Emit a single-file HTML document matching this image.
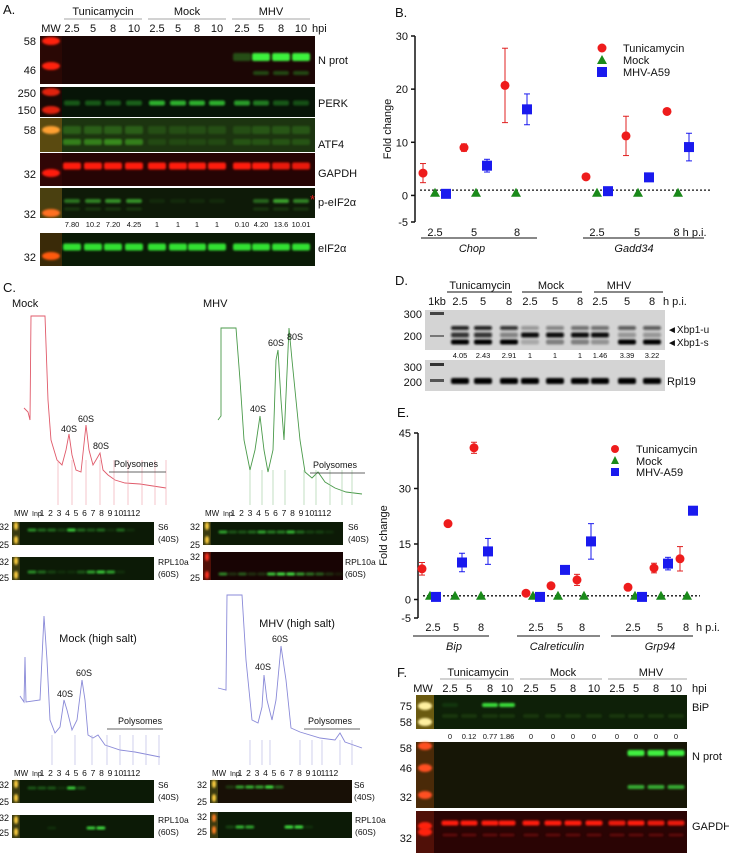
<!DOCTYPE html>
<html><head><meta charset="utf-8"><style>
html,body{margin:0;padding:0;background:#fff;}
svg{display:block;font-family:"Liberation Sans",Arial,sans-serif;}
</style></head><body>
<svg id="fig" width="729" height="853" viewBox="0 0 729 853" xmlns="http://www.w3.org/2000/svg">
<defs>
<filter id="bl" x="-20%" y="-50%" width="140%" height="200%"><feGaussianBlur stdDeviation="1.1"/></filter>
</defs>
<g id="root"></g>
</svg>
<script>
// ---- Chart B data ----
const bGenes = ["Chop","Gadd34"];
const bTimes = ["2.5","5","8"];
const bTunVals = [4.2, 9.0, 20.7, 3.5, 11.2, 15.8];
const bTunErr = [1.8, 0.7, 7.0, 0.5, 3.7, 0.3];
const bMockVals = [0.5, 0.5, 0.5, 0.5, 0.5, 0.5];
const bMhvVals = [0.3, 5.6, 16.2, 0.8, 3.4, 9.1];
const bMhvErr = [0.3, 1.2, 2.9, 0.3, 0.3, 2.6];
const bTicks = [-5, 0, 10, 20, 30];
// ---- Chart E data ----
const eGenes = ["Bip","Calreticulin","Grp94"];
const eTunVals = [8.3, 20.5, 41.0, 1.7, 3.7, 5.3, 3.3, 8.5, 11.0];
const eTunErr = [1.7, 0.4, 1.5, 0.3, 0.4, 1.5, 0.3, 1.3, 3.3];
const eMockVals = [1, 1, 1, 1, 1, 1, 1, 1, 1];
const eMhvVals = [0.7, 10.0, 13.0, 0.7, 8.0, 15.7, 0.7, 9.7, 24.0];
const eMhvErr = [0.2, 2.5, 3.5, 0.2, 0.3, 4.8, 0.2, 1.7, 0.3];
const eTicks = [-5, 0, 15, 30, 45];
// ---- Blot quantification labels ----
const aPeifVals = ["7.80","10.2","7.20","4.25","1","1","1","1","0.10","4.20","13.6","10.01"];
const dXbpVals = ["4.05","2.43","2.91","1","1","1","1.46","3.39","3.22"];
const fBipVals = ["0","0.12","0.77","1.86","0","0","0","0","0","0","0","0"];

const NS="http://www.w3.org/2000/svg";
const root=document.getElementById('root');
function el(tag,attrs,parent){const e=document.createElementNS(NS,tag);for(const k in attrs)e.setAttribute(k,attrs[k]);(parent||root).appendChild(e);return e;}
function txt(x,y,s,size,opts){opts=opts||{};const t=el('text',{x:x,y:y,'font-size':size,fill:opts.fill||'#111','text-anchor':opts.anchor||'start'},opts.parent);if(opts.italic)t.setAttribute('font-style','italic');t.textContent=s;


return t;}
function line(x1,y1,x2,y2,c,w,dash,p){const l=el('line',{x1,y1,x2,y2,stroke:c||'#111','stroke-width':w||1},p);if(dash)l.setAttribute('stroke-dasharray',dash);return l;}

// Blot helper
function blot(name,x,y,w,h,bg,lanes,bands,mw){
  const g=el('g',{});
  
  
  el('rect',{x,y,width:w,height:h,fill:bg},g);
  if(mw){el('rect',{x:x,y:y,width:mw.w,height:h,fill:mw.bg},g);
    mw.ys.forEach(v=>el('ellipse',{cx:x+mw.w/2,cy:v,rx:mw.w/2-2,ry:4,fill:mw.c,filter:'url(#bl)'},g));}
  bands.forEach(b=>{lanes.forEach((lx,i)=>{const a=b.a[i];if(a<=0)return;
    el('rect',{x:lx-b.w/2,y:b.y-b.h/2,width:b.w,height:b.h,fill:b.c,opacity:a,filter:'url(#bl)',rx:2},g);});});
  return g;
}

// ================= Panel A =================
txt(3,14,"A.",13,{name:'panel-a-label'});
const aL=[72,93,113,134,157,178,197,217,242,261,281,301];
[["Tunicamycin",103,64,142],["Mock",187,148,226],["MHV",271,232,310]].forEach(h=>{txt(h[1],15,h[0],11,{anchor:'middle',name:'group-header'});line(h[2],19,h[3],19,'#888',0.8);});
txt(51,32,"MW",11,{anchor:'middle',name:'lane-label'});
["2.5","5","8","10","2.5","5","8","10","2.5","5","8","10"].forEach((s,i)=>txt(aL[i],32,s,11,{anchor:'middle',name:'lane-label'}));
txt(312,32,"hpi",11,{name:'hpi-label'});
const mwA={w:22,bg:'#3a0a05',c:'#ff2a10'};
blot('n-prot-blot',40,36,275,48,'#1c0605',aL,[{y:57,h:8,w:18,c:'#3cf23c',a:[0,0,0,0,0,0,0,0,0.3,1,1,1]},{y:73,h:4,w:16,c:'#2a8a20',a:[0,0,0,0,0,0,0,0,0,.5,.5,.5]}],{w:22,bg:'#2a0805',c:'#ff2010',ys:[41,66]});
blot('perk-blot',40,87,275,30,'#071407',aL,[{y:103,h:5,w:16,c:'#30c030',a:[.4,.4,.4,.45,.9,.9,.9,.9,.8,.6,.4,.35]}],{w:22,bg:'#1a0805',c:'#e02010',ys:[92,110]});
blot('atf4-blot',40,118,275,34,'#1c3410',aL,[{y:130,h:8,w:18,c:'#3a8a20',a:[.5,.5,.5,.5,.3,.3,.3,.3,.3,.4,.4,.4]},{y:142,h:6,w:18,c:'#40a020',a:[.7,.7,.8,.7,.2,.2,.2,.2,.3,.3,.3,.3]}],{w:22,bg:'#5a4a10',c:'#ffa030',ys:[130]});
blot('gapdh-blot',40,153,275,33,'#260404',aL,[{y:166,h:7,w:18,c:'#ff1a10',a:[1,1,1,1,1,1,1,1,1,1,.9,.9]}],{w:22,bg:'#300606',c:'#ff1a10',ys:[173]});
blot('p-eif2a-blot',40,188,275,30,'#0e1a08',aL,[{y:201,h:4,w:16,c:'#40b030',a:[.6,.7,.8,.8,.1,.1,.1,.1,0,.5,.9,.7]},{y:209,h:3,w:16,c:'#307a20',a:[.3,.3,.3,.3,0,0,0,0,0,.3,.3,.3]}],{w:22,bg:'#4a4010',c:'#ff7020',ys:[213]});
aPeifVals.forEach((s,i)=>txt(aL[i],227,s,7.5,{anchor:'middle',name:'p-eif2a-ratio'}));
blot('eif2a-blot',40,233,275,33,'#0a1a06',aL,[{y:247,h:7,w:18,c:'#30e030',a:[1,1,1,1,1,1,1,1,1,1,1,1]}],{w:22,bg:'#3a2a08',c:'#ff5a10',ys:[256]});
[["58",41],["46",70],["250",93],["150",110],["58",130],["32",174],["32",214],["32",257]].forEach(m=>txt(36,m[1]+4,m[0],11,{anchor:'end',name:'mw-marker'}));
[["N prot",60],["PERK",103],["ATF4",144],["GAPDH",173],["p-eIF2α",202],["eIF2α",248]].forEach(m=>txt(318,m[1]+4,m[0],11,{name:'blot-label'}));
txt(310,204,"*",13,{fill:'#e02020',name:'asterisk'});

// ================= Panel B =================
txt(395,17,"B.",13,{name:'panel-b-label'});
(function(){
  const x0=415,yT=36,yB=222,vMin=-5,vMax=30;
  const Y=v=>yB-(v-vMin)/(vMax-vMin)*(yB-yT);
  const gx=[[423,435,446],[464,476,487],[505,516,527],[586,597,608],[626,638,649],[667,678,689]];
  line(x0,yT,x0,yB,'#111',1.5);
  bTicks.forEach(t=>{line(x0-4,Y(t),x0,Y(t),'#111',1.5);txt(x0-7,Y(t)+4,String(t),11,{anchor:'end',name:'y-tick'});});
  const yl=txt(0,0,"Fold change",11,{anchor:'middle',name:'y-axis-title'});yl.setAttribute('transform',`translate(391,${(yT+yB)/2}) rotate(-90)`);
  line(420,Y(1),712,Y(1),'#111',1.3,'2,2');
  [[435,"2.5"],[474,"5"],[517,"8"],[597,"2.5"],[637,"5"],[690,"8 h p.i."]].forEach(p=>txt(p[0],236,p[1],11,{anchor:'middle',name:'x-tick'}));
  line(421,238,537,238,'#111',1);line(583,238,704,238,'#111',1);
  txt(472,252,bGenes[0],11,{anchor:'middle',italic:true,name:'gene-label'});
  txt(634,252,bGenes[1],11,{anchor:'middle',italic:true,name:'gene-label'});
  bTunVals.forEach((v,i)=>{const x=gx[i][0];const e=bTunErr[i];
    line(x,Y(v+e),x,Y(v-e),'#e02020',1);line(x-3,Y(v+e),x+3,Y(v+e),'#e02020',1);line(x-3,Y(v-e),x+3,Y(v-e),'#e02020',1);
    const c=el('circle',{cx:x,cy:Y(v),r:4.5,fill:'#ee1c1c'});
    
    });
  bMockVals.forEach((v,i)=>{const x=gx[i][1],y=Y(v);
    const p=el('polygon',{points:`${x},${y-5} ${x-5},${y+4} ${x+5},${y+4}`,fill:'#1a8a1a'});
    
    });
  bMhvVals.forEach((v,i)=>{const x=gx[i][2];const e=bMhvErr[i];
    line(x,Y(v+e),x,Y(v-e),'#1a1aee',1);line(x-3,Y(v+e),x+3,Y(v+e),'#1a1aee',1);line(x-3,Y(v-e),x+3,Y(v-e),'#1a1aee',1);
    const r=el('rect',{x:x-5,y:Y(v)-5,width:10,height:10,fill:'#1a1aee'});
    
    });
  el('circle',{cx:602,cy:48,r:4.5,fill:'#ee1c1c'});txt(623,52,"Tunicamycin",11,{name:'legend-entry'});
  el('polygon',{points:'602,55 597,64 607,64',fill:'#1a8a1a'});txt(623,64,"Mock",11,{name:'legend-entry'});
  el('rect',{x:597,y:67,width:10,height:10,fill:'#1a1aee'});txt(623,76,"MHV-A59",11,{name:'legend-entry'});
})();

// ================= Panel C =================
txt(3,292,"C.",13,{name:'panel-c-label'});
txt(12,307,"Mock",11,{name:'profile-title'});
txt(203,307,"MHV",11,{name:'profile-title'});
const mockTrace=[[24,408],[28,412],[30,420],[31,316],[45,316],[48,400],[51,440],[57,460],[62,465],[66,450],[69,434],[72,455],[76,470],[81,472],[86,425],[89,450],[93,465],[96,460],[100,453],[103,470],[108,475],[115,480],[125,483],[140,484],[166,488]];
const mhvTrace=[[218,420],[221,416],[221,328],[236,328],[240,380],[244,440],[250,470],[255,450],[260,416],[264,450],[268,472],[273,450],[276,360],[278,350],[281,400],[284,440],[289,328],[292,360],[296,400],[300,440],[305,472],[312,478],[318,472],[325,482],[335,488],[346,492],[362,494]];
const mockHsTrace=[[20,696],[24,702],[25,657],[26,702],[40,700],[44,616],[47,660],[50,720],[55,733],[60,727],[64,700],[67,710],[72,730],[77,720],[82,680],[85,700],[88,735],[93,738],[98,735],[105,745],[120,750],[135,752],[160,757]];
const mhvHsTrace=[[218,688],[226,690],[227,595],[242,595],[246,660],[252,720],[258,723],[262,707],[264,675],[267,700],[272,720],[276,700],[281,646],[286,680],[291,728],[300,732],[320,738],[335,740],[340,733],[345,742],[362,748]];
function trace(name,pts,col,ticksFrom,tickY){
  const p=el('polyline',{points:pts.map(q=>q.join(',')).join(' '),fill:'none',stroke:col,'stroke-width':0.9});
  
  
}
trace('mock-profile',mockTrace,'#e05a6a');
trace('mhv-profile',mhvTrace,'#4a9a4a');
trace('mock-high-salt-profile',mockHsTrace,'#8a8ad8');
trace('mhv-high-salt-profile',mhvHsTrace,'#8a8ad8');
// fraction tick marks
[[58,72,86,100,114,128,142,155,166],[250,262,273,285,304,316,330,342,352]].forEach((xs,k)=>xs.forEach(x=>line(x,k?470:460,x,505,k?'#9aca9a':'#f0a0a8',0.6)));
[[52,75,92,107,120,133,146,159],[250,262,270,300,312,322,340,352]].forEach((xs,k)=>xs.forEach(x=>line(x,k?740:735,x,765,'#b0b0e0',0.6)));
[["40S",69,432],["60S",86,422],["80S",101,449],["40S",258,412],["60S",276,346],["80S",295,340],["40S",65,697],["60S",84,676],["40S",263,670],["60S",280,642]].forEach(l=>txt(l[1],l[2],l[0],9,{anchor:'middle',name:'peak-label'}));
[[136,467,109,166],[335,468,310,365],[140,724,107,163],[330,724,304,360]].forEach(p=>{txt(p[0],p[1],"Polysomes",9,{anchor:'middle',name:'polysomes-label'});line(p[2],p[1]+5,p[3],p[1]+5,'#333',0.8);});
txt(98,642,"Mock (high salt)",11,{anchor:'middle',name:'profile-title'});
txt(297,627,"MHV (high salt)",11,{anchor:'middle',name:'profile-title'});
// fraction blots
function fracRow(x0,y0,w,ny){
  txt(x0+2,ny,"MW",8,{name:'lane-label'});txt(x0+20,ny,"Inp",7,{name:'lane-label'});
  for(let i=1;i<=12;i++)txt(x0+30+(i-1)*(w-40)/12,ny,String(i),8.5,{anchor:'middle',name:'fraction-number'});
}
const cL1=[30,40,50,60,70,80,90,100,110,120,130,140,150];
function fl(x0,w){return cL1.map((v,i)=>x0+20+i*(w-24)/12);}
fracRow(12,522,142,516);fracRow(203,522,142,516);fracRow(12,780,142,776);fracRow(210,780,142,776);
const mwC=c=>({w:8,bg:'#3a3a10',c:c||'#ffe060',ys:[]});
blot('mock-s6-blot',12,522,142,23,'#0c1a06',fl(12,142),[{y:530,h:3,w:9,c:'#40e040',a:[.6,.4,.4,.2,.9,.4,.3,.4,.1,.4,.1,0,0]}],{w:8,bg:'#3a3a10',c:'#ffd040',ys:[526,540]});
blot('mock-rpl10a-blot',12,557,142,23,'#0c1a06',fl(12,142),[{y:572,h:3,w:9,c:'#40e040',a:[.6,.4,.2,.1,.1,.3,.7,.9,.7,.1,0,0,0]}],{w:8,bg:'#3a3a10',c:'#ffd040',ys:[561,575]});
blot('mhv-s6-blot',203,522,140,23,'#0c1a06',fl(203,140),[{y:532,h:3,w:9,c:'#40e040',a:[.7,.3,.3,.4,.7,.5,.5,.8,.4,.2,.2,.1,0]}],{w:8,bg:'#3a3a10',c:'#ffd040',ys:[526,540]});
blot('mhv-rpl10a-blot',203,552,140,28,'#180404',fl(203,140),[{y:574,h:3,w:9,c:'#40e040',a:[.6,.2,.4,.2,.2,.9,1,1,.7,.5,.4,.2,.1]}],{w:8,bg:'#501008',c:'#ff3020',ys:[557,575]});
blot('mock-hs-s6-blot',12,780,142,23,'#0c1a06',fl(12,142),[{y:788,h:3,w:9,c:'#40e040',a:[.3,.3,.3,.1,.9,.3,0,0,0,0,0,0,0]}],{w:8,bg:'#3a3a10',c:'#ffd040',ys:[784,798]});
blot('mock-hs-rpl10a-blot',12,815,142,23,'#0c1a06',fl(12,142),[{y:828,h:3,w:9,c:'#40e040',a:[0,0,.1,0,0,0,.9,1,0,0,0,0,0]}],{w:8,bg:'#3a3a10',c:'#ffd040',ys:[820,832]});
blot('mhv-hs-s6-blot',210,780,142,23,'#181006',fl(210,142),[{y:787,h:3,w:9,c:'#40e040',a:[.2,.7,.8,.7,1,.4,0,0,0,0,0,0,0]}],{w:8,bg:'#3a3a10',c:'#ffd040',ys:[784,798]});
blot('mhv-hs-rpl10a-blot',210,812,142,26,'#0c1a06',fl(210,142),[{y:827,h:3,w:9,c:'#40e040',a:[.2,.8,.7,0,0,0,1,1,.1,0,0,0,0]}],{w:8,bg:'#3a3a10',c:'#ff8020',ys:[818,830]});
[[12,527,545],[12,562,578],[203,527,545],[203,557,578],[12,785,802],[12,818,833],[210,785,802],[210,817,832]].forEach(r=>{txt(r[0]-3,r[1]+3,"32",9,{anchor:'end',name:'mw-marker'});txt(r[0]-3,r[2]+3,"25",9,{anchor:'end',name:'mw-marker'});});
[[158,530,"S6","(40S)"],[348,530,"S6","(40S)"],[158,565,"RPL10a","(60S)"],[345,565,"RPL10a","(60S)"],[158,788,"S6","(40S)"],[354,788,"S6","(40S)"],[158,823,"RPL10a","(60S)"],[355,823,"RPL10a","(60S)"]].forEach(l=>{txt(l[0],l[1],l[2],8.5,{name:'blot-label'});txt(l[0],l[1]+12,l[3],8.5,{name:'blot-label'});});

// ================= Panel D =================
txt(395,285,"D.",13,{name:'panel-d-label'});
const dL=[460,483,509,530,555,580,600,627,652];
[["Tunicamycin",480,447,512],["Mock",551,522,582],["MHV",619,594,663]].forEach(h=>{txt(h[1],289,h[0],11,{anchor:'middle',name:'group-header'});line(h[2],292,h[3],292,'#111',1);});
txt(437,305,"1kb",11,{anchor:'middle',name:'lane-label'});
["2.5","5","8","2.5","5","8","2.5","5","8"].forEach((s,i)=>txt(dL[i],305,s,11,{anchor:'middle',name:'lane-label'}));
txt(663,305,"h p.i.",11,{name:'hpi-label'});
blot('xbp1-gel',425,310,240,40,'#d4d4d4',dL,[
 {y:328,h:4,w:18,c:'#111',a:[.9,.9,.8,.3,.4,.5,.5,.6,.6]},
 {y:335,h:5,w:18,c:'#111',a:[.8,.8,.4,1,1,1,1,.3,.3]},
 {y:342,h:5,w:18,c:'#000',a:[1,1,1,.2,.4,.4,.3,1,1]}],null);
el('rect',{x:430,y:312,width:14,height:3,fill:'#444'});el('rect',{x:430,y:335,width:14,height:2,fill:'#777'});
dXbpVals.forEach((s,i)=>txt(dL[i],358,s,7.5,{anchor:'middle',name:'xbp1-ratio'}));
blot('rpl19-gel',425,360,240,31,'#d4d4d4',dL,[{y:381,h:6,w:18,c:'#000',a:[1,1,1,1,1,1,1,1,1]}],null);
el('rect',{x:430,y:363,width:14,height:3,fill:'#333'});el('rect',{x:430,y:379,width:14,height:3,fill:'#555'});
[["300",314],["200",336],["300",367],["200",382]].forEach(m=>txt(422,m[1]+4,m[0],11,{anchor:'end',name:'marker'}));
txt(667,333,"◄Xbp1-u",10,{name:'xbp1-u-label'});txt(667,346,"◄Xbp1-s",10,{name:'xbp1-s-label'});
txt(667,385,"Rpl19",11,{name:'blot-label'});

// ================= Panel E =================
txt(397,417,"E.",13,{name:'panel-e-label'});
(function(){
  const x0=418,yT=433,yB=618,vMin=-5,vMax=45;
  const Y=v=>yB-(v-vMin)/(vMax-vMin)*(yB-yT);
  const gx=[[422,430,436],[448,455,462],[474,481,488],[526,533,540],[551,558,565],[577,584,591],[628,635,642],[654,661,668],[680,687,693]];
  line(x0,yT,x0,yB,'#111',1.5);
  eTicks.forEach(t=>{line(x0-4,Y(t),x0,Y(t),'#111',1.5);txt(x0-7,Y(t)+4,String(t),11,{anchor:'end',name:'y-tick'});});
  const yl=txt(0,0,"Fold change",11,{anchor:'middle',name:'y-axis-title'});yl.setAttribute('transform',`translate(387,${(yT+yB)/2+10}) rotate(-90)`);
  line(423,Y(1),700,Y(1),'#111',1.3,'2,2');
  [[433,"2.5"],[456,"5"],[481,"8"],[536,"2.5"],[560,"5"],[582,"8"],[633,"2.5"],[660,"5"],[686,"8"]].forEach(p=>txt(p[0],631,p[1],11,{anchor:'middle',name:'x-tick'}));
  txt(696,631,"h p.i.",11,{name:'hpi-label'});
  [[413,489],[517,600],[611,693]].forEach(l=>line(l[0],636,l[1],636,'#111',1));
  [454,557,660].forEach((x,i)=>txt(x,650,eGenes[i],11,{anchor:'middle',italic:true,name:'gene-label'}));
  eTunVals.forEach((v,i)=>{const x=gx[i][0];const e=eTunErr[i];
    line(x,Y(v+e),x,Y(v-e),'#e02020',1);line(x-3,Y(v+e),x+3,Y(v+e),'#e02020',1);line(x-3,Y(v-e),x+3,Y(v-e),'#e02020',1);
    const c=el('circle',{cx:x,cy:Y(v),r:4.5,fill:'#ee1c1c'});
    
    });
  eMockVals.forEach((v,i)=>{const x=gx[i][1],y=Y(v);
    const p=el('polygon',{points:`${x},${y-5} ${x-5},${y+4} ${x+5},${y+4}`,fill:'#1a8a1a'});
    
    });
  eMhvVals.forEach((v,i)=>{const x=gx[i][2];const e=eMhvErr[i];
    line(x,Y(v+e),x,Y(v-e),'#1a1aee',1);line(x-3,Y(v+e),x+3,Y(v+e),'#1a1aee',1);line(x-3,Y(v-e),x+3,Y(v-e),'#1a1aee',1);
    const r=el('rect',{x:x-5,y:Y(v)-5,width:10,height:10,fill:'#1a1aee'});
    
    });
  el('circle',{cx:615,cy:449,r:4,fill:'#ee1c1c'});txt(636,453,"Tunicamycin",11,{name:'legend-entry'});
  el('polygon',{points:'615,456 611,464 619,464',fill:'#1a8a1a'});txt(636,465,"Mock",11,{name:'legend-entry'});
  el('rect',{x:611,y:468,width:8,height:8,fill:'#1a1aee'});txt(636,476,"MHV-A59",11,{name:'legend-entry'});
})();

// ================= Panel F =================
txt(397,677,"F.",13,{name:'panel-f-label'});
const fL=[450,469,490,507,531,553,573,594,617,636,656,676];
[["Tunicamycin",478,440,514],["Mock",563,520,602],["MHV",651,608,687]].forEach(h=>{txt(h[1],676,h[0],11,{anchor:'middle',name:'group-header'});line(h[2],679,h[3],679,'#888',0.8);});
txt(423,692,"MW",11,{anchor:'middle',name:'lane-label'});
["2.5","5","8","10","2.5","5","8","10","2.5","5","8","10"].forEach((s,i)=>txt(fL[i],692,s,11,{anchor:'middle',name:'lane-label'}));
txt(692,692,"hpi",11,{name:'hpi-label'});
blot('bip-blot',416,695,271,34,'#0e2008',fL,[{y:705,h:4,w:16,c:'#40f040',a:[.1,0,.9,.9,0,0,0,0,0,0,0,0]},{y:716,h:4,w:16,c:'#2a5a18',a:[.4,.4,.4,.4,.4,.4,.4,.4,.4,.4,.4,.4]}],{w:18,bg:'#6a5a10',c:'#fff0a0',ys:[706,722]});
fBipVals.forEach((s,i)=>txt(fL[i],739,s,7.5,{anchor:'middle',name:'bip-ratio'}));
blot('f-n-prot-blot',416,742,271,66,'#161606',fL,[{y:753,h:6,w:17,c:'#40f040',a:[0,0,0,0,0,0,0,0,0,1,1,1]},{y:787,h:4,w:17,c:'#40d040',a:[0,0,0,0,0,0,0,0,0,.8,.8,.8]}],{w:18,bg:'#4a2a08',c:'#ff5020',ys:[746,768,795]});
blot('f-gapdh-blot',416,811,271,42,'#2a0404',fL,[{y:823,h:5,w:17,c:'#ff1a10',a:[1,1,1,1,1,1,1,1,.9,1,.9,.9]},{y:835,h:3,w:15,c:'#801010',a:[.6,.6,.6,.6,.6,.6,.6,.6,.6,.6,.6,.6]}],{w:18,bg:'#501008',c:'#ff2010',ys:[826,832]});
[["75",706],["58",722],["58",748],["46",768],["32",797],["32",838]].forEach(m=>txt(412,m[1]+4,m[0],11,{anchor:'end',name:'mw-marker'}));
[["BiP",707],["N prot",756],["GAPDH",826]].forEach(m=>txt(692,m[1]+4,m[0],11,{name:'blot-label'}));
</script>
</body></html>
